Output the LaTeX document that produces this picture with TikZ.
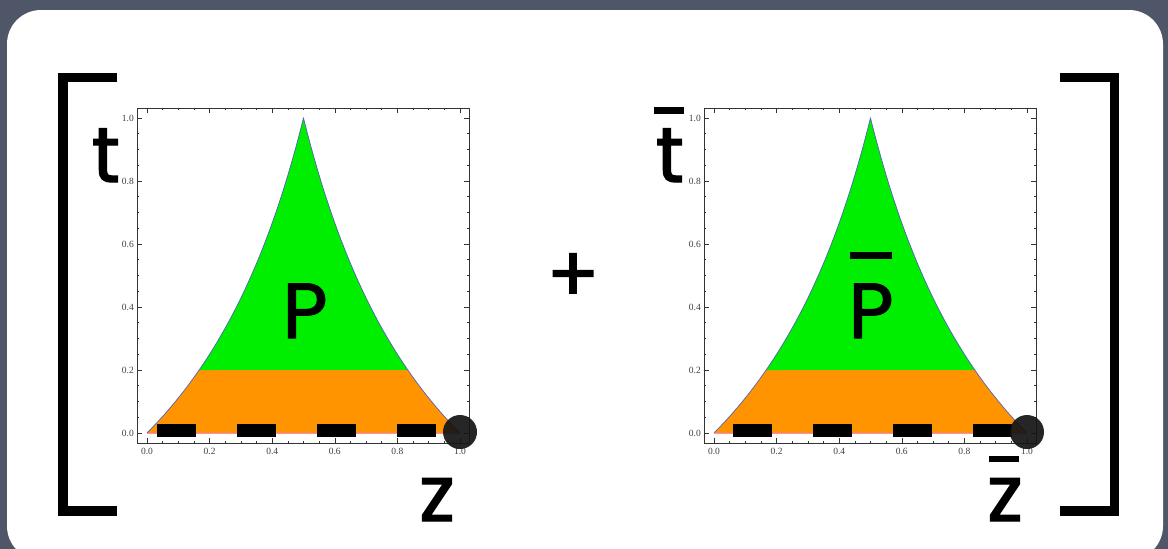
\documentclass[tikz,border=0pt]{standalone}
\usepackage{fontspec}
\setmainfont{Liberation Serif}
\newfontfamily\handfont[FakeBold=1.6]{Poppins}
\usetikzlibrary{calc}
\definecolor{slate}{HTML}{4F5668}
\definecolor{regiongreen}{HTML}{00EE00}
\definecolor{regionorange}{HTML}{FF9400}
\definecolor{edgeblue}{HTML}{5561B8}

\begin{document}
\begin{tikzpicture}[x=1pt,y=-1pt,
    hand/.style={font=\handfont\fontsize{78}{78}\selectfont, inner sep=0pt, anchor=base},
    ticklab/.style={font=\fontsize{9.5}{10}\selectfont, text=black!75, inner sep=0pt},
    brace/.style={line width=9.5pt, line cap=butt, line join=miter}]
  \useasboundingbox (0,0) rectangle (1168,549);
  % slide background and the white card
  \fill[slate] (0,0) rectangle (1168,549);
  \fill[white, rounded corners=34pt] (7,10) rectangle (1163,560);
  % the two panels: origin x, start of the strip, name
  \foreach \ox/\dx/\n in {147/157/L, 714/733/R} {
    \begin{scope}[shift={(\ox,433)}, x=313pt, y=315pt]
      \fill[regionorange] (0,0) -- plot[domain=0:0.2, variable=\t, samples=12] ({\t/(1+\t)},\t)
        -- plot[domain=0.2:0, variable=\t, samples=12] ({1/(1+\t)},\t) -- cycle;
      \fill[regiongreen] plot[domain=0.2:1, variable=\t, samples=40] ({\t/(1+\t)},\t)
        -- plot[domain=1:0.2, variable=\t, samples=40] ({1/(1+\t)},\t) -- cycle;
      \draw[edgeblue, line width=0.7pt] plot[domain=0:1, variable=\t, samples=50] ({\t/(1+\t)},\t)
        -- plot[domain=1:0, variable=\t, samples=50] ({1/(1+\t)},\t);
      \draw[magenta!45, line width=0.7pt] (0,0) -- (1,0);
      % frame with ticks on all sides
      \draw[line width=0.8pt, black!80] (-0.032,-0.032) rectangle (1.029,1.032);
      \foreach \k in {0,...,20} {
        \pgfmathsetmacro\v{\k/20}
        \pgfmathsetmacro\len{ifthenelse(mod(\k,4)==0,5,2.5)}
        \draw[black!80, line width=0.6pt] (\v,-0.032) -- ++(0pt,\len pt);
        \draw[black!80, line width=0.6pt] (\v,1.032) -- ++(0pt,-\len pt);
        \draw[black!80, line width=0.6pt] (-0.032,\v) -- ++(\len pt,0pt);
        \draw[black!80, line width=0.6pt] (1.029,\v) -- ++(-\len pt,0pt);
      }
      \foreach \k/\l in {0/0.0, 1/0.2, 2/0.4, 3/0.6, 4/0.8, 5/1.0} {
        \node[ticklab] (xl\n\k) at ([yshift=-8.5pt]\k/5,-0.032) {\l};
        \node[ticklab, anchor=east] (yl\n\k) at ([xshift=-3pt]-0.032,\k/5) {\l};
      }
    \end{scope}
    % black strip along t=0 and the dot at z=1
    \draw[line width=13pt, dash pattern=on 39pt off 41pt] (\dx,430.5) -- ++(280,0);
    \fill[black!92, opacity=0.92] (\ox+313,432) circle (17pt);
  }
  % brackets
  \draw[brace] (117,77.5) -- (63,77.5) -- (63,511) -- (117,511);
  \draw[brace] (1060,77.5) -- (1114.5,77.5) -- (1114.5,511) -- (1060,511);
  % labels
  \node[hand] (tL) at (106,182) {t};
  \node[hand] (zL) at (437,521) {z};
  \node[hand] (pL) at (305,338) {P};
  \node[hand] (plus) at (573,302) {+};
  \node[hand] (tR) at (670,182) {t};
  \node[hand] (zR) at (1005,521) {z};
  \node[hand] (pR) at (871,338) {P};
  % bars over the right-hand labels
  \fill ($(tR.base)+(-16,-75)$) rectangle ++(30,7);
  \fill ($(zR.base)+(-16,-65)$) rectangle ++(30,6);
  \fill ($(pR.base)+(-21,-86)$) rectangle ++(42,7);
\end{tikzpicture}
\end{document}
